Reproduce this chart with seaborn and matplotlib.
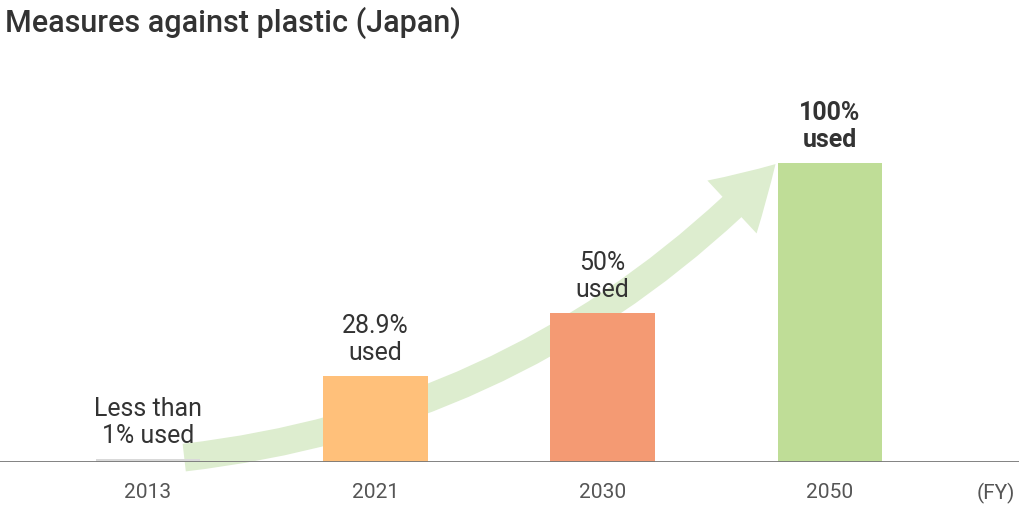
import matplotlib

matplotlib.use("Agg")

import matplotlib.pyplot as plt
import pandas as pd
import seaborn as sns

years = ["2013", "2021", "2030", "2050"]
shares = [1.0, 28.9, 50.0, 100.0]
labels = ["Less than\n1% used", "28.9%\nused", "50%\nused", "100%\nused"]
colors = ["#D9D9D9", "#FFC07A", "#F49A73", "#BFDD97"]

plt.rcParams["font.family"] = "Roboto"
df = pd.DataFrame({"year": years, "share": shares})

fig = plt.figure(figsize=(10.2, 5.1), dpi=100)
ax = fig.add_axes([0, 0.092, 1, 0.79])

# decorative growth arrow behind the bars
ax.annotate(
    "", xy=(2.76, 99.7), xytext=(0.16, 1.5),
    arrowprops=dict(arrowstyle="simple,head_length=2.2,head_width=2.6,tail_width=1.0",
                    connectionstyle="arc3,rad=0.18", color="#DDEDCF", lw=0,
                    mutation_scale=20, shrinkA=0, shrinkB=0),
    zorder=1,
)

sns.barplot(data=df, x="year", y="share", hue="year", palette=colors,
            width=0.46, saturation=1, legend=False, ax=ax, zorder=2)

for i, (v, lab) in enumerate(zip(shares, labels)):
    ax.text(i, v + 4, lab, ha="center", va="bottom", fontsize=18,
            color="#333333", linespacing=1.15,
            fontweight="bold" if i == 3 else "normal")

ax.set_xlim(-0.65, 3.835)
ax.set_ylim(0, 134.8)
ax.axhline(0, color="#777777", lw=2, zorder=3)
for s in ax.spines.values():
    s.set_visible(False)
ax.set_yticks([])
ax.set_xlabel("")
ax.set_ylabel("")
ax.tick_params(axis="x", length=0, labelsize=15, labelcolor="#555555", pad=14)
ax.text(3.73, -6.5, "(FY)", ha="center", va="top", fontsize=15, color="#555555")

fig.text(0.005, 0.955, "Measures against plastic (Japan)", ha="left", va="center",
         fontsize=22, fontweight="medium", color="#333333")

fig.savefig("out.png", dpi=100)
